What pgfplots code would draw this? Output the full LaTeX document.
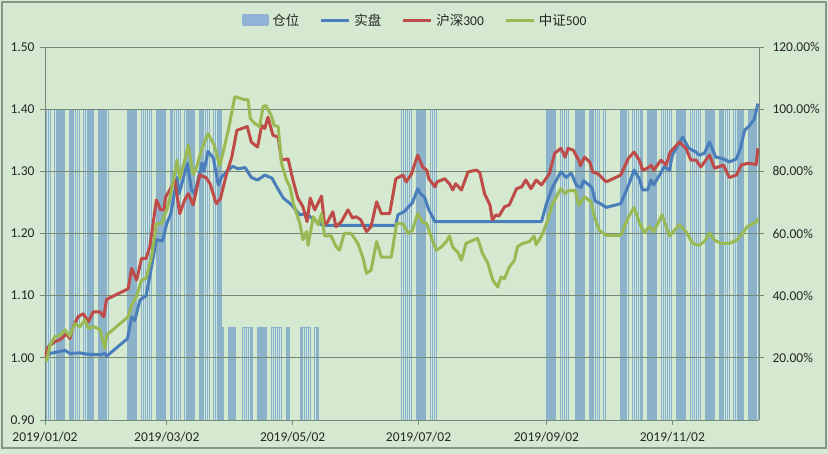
\documentclass[border=0pt]{standalone}
\usepackage{fontspec}
\setmainfont{Carlito}
\newfontfamily\cjk{Noto Sans CJK SC}
\usepackage{pgfplots}
\pgfplotsset{compat=1.18}

\definecolor{bg}{RGB}{212,233,207}
\definecolor{framec}{RGB}{135,150,135}
\definecolor{gridc}{RGB}{118,136,118}
\definecolor{shipan}{RGB}{74,126,187}
\definecolor{hs}{RGB}{190,75,72}
\definecolor{zz}{RGB}{152,185,84}
\definecolor{barfill}{RGB}{198,228,232}
\definecolor{baredge}{RGB}{140,178,202}
\definecolor{patch}{RGB}{145,178,214}

\pgfplotsset{
  base/.style={
    at={(45pt,34pt)}, anchor=south west, scale only axis,
    width=714pt, height=373pt, xmin=0, xmax=346,
    axis line style={gridc, line width=0.9pt},
    tick style={gridc, line width=0.9pt},
    major tick length=5pt, tick align=outside,
    ticklabel style={font=\fontsize{13.5}{15}\selectfont, text=black!85},
  }
}

\begin{document}
\begin{tikzpicture}
\fill[bg] (0pt,0pt) rectangle (828pt,454pt);
\draw[framec, line width=1.2pt] (2pt,6pt) rectangle (826pt,452pt);

% position (right axis, percent)
\begin{axis}[base, ymin=0, ymax=120, axis x line=none, axis y line*=right,
  ytick={20,40,60,80,100,120},
  yticklabels={20.00\%,40.00\%,60.00\%,80.00\%,100.00\%,120.00\%},
  yticklabel style={xshift=5pt}]
\addplot[ybar, bar width=0.7, fill=barfill, draw=baredge, line width=0.22pt, fill opacity=0.7]
coordinates {
(0,100)(1,100)(2,100)(5,100)(6,100)(7,100)(8,100)(9,100)(12,100)(13,100)(14,100)(15,100)(16,100)
(19,100)(20,100)(21,100)(22,100)(23,100)(26,100)(27,100)(28,100)(29,100)(30,100)
(40,100)(41,100)(42,100)(43,100)(44,100)(47,100)(48,100)(49,100)(50,100)(51,100)
(54,100)(55,100)(56,100)(57,100)(58,100)(61,100)(62,100)(63,100)(64,100)(65,100)
(68,100)(69,100)(70,100)(71,100)(72,100)(75,100)(76,100)(77,100)(78,100)(79,100)
(82,100)(83,100)(84,100)(85,100)
(86,30)(89,30)(90,30)(91,30)(92,30)(96,30)(97,30)(98,30)(99,30)(100,30)
(103,30)(104,30)(105,30)(106,30)(107,30)(110,30)(111,30)(112,30)(113,30)(114,30)
(117,30)(118,30)(124,30)(125,30)(126,30)(127,30)(128,30)(131,30)(132,30)
(173,100)(174,100)(175,100)(176,100)(177,100)(180,100)(181,100)(182,100)(183,100)(184,100)
(187,100)(188,100)(189,100)
(243,100)(244,100)(245,100)(246,100)(247,100)(250,100)(251,100)(252,100)(253,100)
(257,100)(258,100)(259,100)(260,100)(261,100)(264,100)(265,100)(266,100)(267,100)(268,100)
(271,100)(279,100)(280,100)(281,100)(282,100)(285,100)(286,100)(287,100)(288,100)(289,100)
(292,100)(293,100)(294,100)(295,100)(296,100)(299,100)(300,100)(301,100)(302,100)(303,100)
(306,100)(307,100)(308,100)(309,100)(310,100)(313,100)(314,100)(315,100)(316,100)(317,100)
(320,100)(321,100)(322,100)(323,100)(324,100)(327,100)(328,100)(329,100)(330,100)(331,100)
(334,100)(335,100)(336,100)(337,100)(338,100)(341,100)(342,100)(343,100)(344,100)(345,100)
};
\end{axis}

% net values (left axis)
\begin{axis}[base, ymin=0.9, ymax=1.5, axis y line*=left, axis x line*=bottom,
  ytick={0.9,1,1.1,1.2,1.3,1.4,1.5},
  yticklabels={0.90,1.00,1.10,1.20,1.30,1.40,1.50},
  yticklabel style={xshift=-2pt},
  xticklabel style={yshift=-4pt},
  ymajorgrids, grid style={gridc, line width=0.9pt},
  xtick={0,59,120,181,243,304},
  xticklabels={2019/01/02,2019/03/02,2019/05/02,2019/07/02,2019/09/02,2019/11/02},
  legend columns=-1,
  legend style={at={(0.518,1.072)}, anchor=center, draw=none, fill=none,
    font=\fontsize{13.5}{15}\selectfont, text=black!85,
    nodes={inner sep=1.5pt},
    /tikz/every odd column/.append style={column sep=2pt},
    /tikz/every even column/.append style={column sep=19pt}},
  legend image code/.code={\draw[#1] (0pt,0pt) -- (28pt,0pt);},
  every axis plot/.append style={line width=3pt, line join=round}]
\addlegendimage{legend image code/.code={\fill[patch] (0pt,-4.5pt) rectangle (24pt,4.5pt);}}
\addlegendentry{\cjk 仓位}

\addplot[shipan] coordinates {
(0,1.000)(2.4,1.007)(9.7,1.012)(12,1.007)(17,1.008)(20,1.006)(26.6,1.005)(29,1.007)(30,1.003)
(40,1.031)(42,1.066)(43.5,1.060)(46,1.093)(49,1.100)(51.6,1.146)(54,1.190)(57,1.188)(59,1.216)
(61,1.232)(64,1.290)(65,1.264)(69,1.313)(71,1.270)(72.6,1.264)(76,1.313)(77,1.300)(79,1.332)
(81.5,1.322)(84,1.278)(85.5,1.290)(88,1.300)(91,1.308)(93.5,1.304)(97,1.306)(100,1.290)
(103,1.286)(106.5,1.294)(110,1.289)(113,1.271)(115.5,1.257)(119.5,1.246)(123.5,1.230)
(126.6,1.232)(130.7,1.221)(134.6,1.213)(170,1.213)(171,1.230)(174,1.235)(177,1.246)(178,1.249)
(180.6,1.272)(182,1.264)(184,1.258)(186,1.238)(189,1.219)(240.6,1.219)(243,1.248)(246,1.275)
(250,1.299)(252.6,1.290)(255,1.297)(257.6,1.277)(259.8,1.274)(261,1.285)(265,1.274)(266.7,1.252)
(268.6,1.249)(272,1.242)(279,1.248)(282.7,1.277)(285.5,1.302)(288,1.288)(289.6,1.270)(292,1.270)
(293.7,1.286)(295,1.278)(300,1.307)(302.6,1.302)(304,1.326)(309,1.355)(312,1.337)(315.5,1.331)
(317,1.326)(319.5,1.329)(322,1.347)(325,1.323)(328.8,1.320)(331.6,1.315)(335,1.320)(337,1.337)
(339,1.366)(341,1.372)(343.6,1.383)(345.5,1.409)
};
\addlegendentry{\cjk 实盘}

\addplot[hs] coordinates {
(0,1.000)(1.6,1.018)(4.8,1.026)(6.5,1.028)(8,1.031)(10.5,1.039)(12,1.031)(13.7,1.050)(16,1.066)
(18.5,1.071)(21,1.058)(23.4,1.074)(26.6,1.074)(28.5,1.066)(29.8,1.094)(40.3,1.111)(42,1.144)
(44.4,1.125)(46.8,1.160)(49,1.160)(50.8,1.179)(54,1.254)(56,1.238)(57.6,1.238)(58.5,1.259)
(60.5,1.270)(62.9,1.286)(65.3,1.232)(67.7,1.254)(69.4,1.264)(71.8,1.246)(73.4,1.270)(75,1.294)
(78,1.290)(80,1.280)(83,1.248)(85,1.256)(88,1.296)(90.5,1.323)(93,1.366)(98,1.372)(100,1.347)
(103,1.339)(105,1.374)(106.5,1.369)(108,1.387)(110.5,1.358)(113,1.355)(114.6,1.318)(117.8,1.320)
(120,1.288)(122.5,1.257)(125,1.243)(127,1.219)(128.5,1.257)(130.7,1.238)(134,1.260)(135.5,1.214)
(137,1.219)(139.5,1.235)(141,1.211)(143.6,1.219)(146.8,1.238)(149,1.225)(150.7,1.227)(153,1.222)
(155.8,1.203)(158,1.211)(160.7,1.251)(163,1.232)(167,1.232)(170,1.288)(173.5,1.294)(175,1.283)
(177.6,1.296)(180.6,1.326)(183,1.307)(185,1.302)(186,1.288)(189,1.275)(190,1.283)(193.7,1.288)
(196,1.280)(197.6,1.270)(199,1.280)(201.8,1.270)(205,1.299)(209,1.302)(210.7,1.298)(213,1.264)
(215.6,1.246)(216.8,1.222)(218.6,1.230)(220,1.228)(222.7,1.243)(225,1.246)(228.5,1.272)
(231,1.275)(233,1.286)(235.5,1.272)(238,1.286)(240.6,1.278)(244.4,1.296)(247,1.329)(250,1.337)
(252,1.323)(253.5,1.337)(256,1.334)(258.6,1.318)(259.5,1.309)(261.4,1.323)(264,1.315)
(265.4,1.299)(268,1.296)(272,1.283)(279,1.294)(282.7,1.321)(285.5,1.331)(288,1.318)(289.6,1.302)
(292,1.305)(293.7,1.310)(295,1.302)(298.5,1.318)(301,1.310)(303,1.331)(307.4,1.347)(310.6,1.337)
(313,1.318)(315.5,1.318)(317.8,1.307)(322,1.326)(324.5,1.305)(328.8,1.310)(331.6,1.290)
(335,1.294)(337.4,1.310)(340.6,1.313)(344.6,1.311)(345.5,1.337)
};
\addlegendentry{{\cjk 沪深}300}

\addplot[zz] coordinates {
(0,1.000)(0.8,0.996)(2.4,1.020)(4.8,1.034)(7.3,1.036)(9.7,1.045)(12,1.035)(14.5,1.055)(17,1.050)
(19.4,1.061)(21,1.047)(23.4,1.050)(26.6,1.046)(29,1.015)(30,1.037)(40.3,1.066)(42,1.085)
(44.4,1.099)(46.8,1.125)(49,1.128)(51.6,1.162)(54,1.216)(56.5,1.216)(59,1.238)(61,1.264)
(64,1.318)(65.3,1.288)(67.7,1.318)(69.4,1.342)(71.8,1.295)(73.4,1.306)(75.8,1.334)(79,1.361)
(82,1.342)(84.7,1.309)(86,1.326)(88.8,1.366)(92,1.420)(96,1.416)(98.4,1.415)(99.5,1.385)
(101.6,1.377)(104,1.372)(105.7,1.404)(107,1.406)(109.6,1.390)(111,1.374)(113,1.372)(114.6,1.313)
(117,1.286)(118.6,1.276)(120.3,1.249)(123.5,1.216)(125,1.190)(126.7,1.203)(127.5,1.181)
(130,1.227)(132.4,1.214)(134,1.232)(135.5,1.196)(138.7,1.196)(141,1.179)(142.7,1.173)(145,1.200)
(148.4,1.200)(151.6,1.184)(154,1.162)(155.8,1.136)(158,1.141)(160.7,1.187)(163,1.162)
(167.8,1.162)(170.4,1.216)(173.4,1.216)(176,1.200)(178,1.205)(180.6,1.232)(183,1.218)(185,1.216)
(187,1.196)(189.6,1.173)(192,1.178)(194.5,1.187)(196,1.196)(197.6,1.178)(200,1.170)(201.8,1.157)
(204,1.184)(207.3,1.189)(209.7,1.192)(212,1.168)(214.6,1.152)(217,1.125)(219.4,1.114)(221,1.130)
(222.6,1.127)(225,1.146)(227.5,1.157)(229,1.179)(231.5,1.184)(234.7,1.187)(237,1.196)(238,1.182)
(240.6,1.196)(243,1.216)(246,1.248)(250,1.272)(252,1.264)(253.5,1.269)(257,1.269)(258.6,1.245)
(261.4,1.259)(264.6,1.251)(266,1.230)(268.6,1.205)(272,1.197)(279,1.197)(282.7,1.226)
(285.5,1.242)(288,1.218)(290.4,1.201)(292.8,1.211)(295,1.203)(299,1.230)(302.6,1.196)
(307.4,1.214)(310.6,1.203)(313.9,1.184)(317,1.181)(319.5,1.187)(322,1.201)(324.5,1.189)
(327.7,1.184)(331.6,1.184)(335,1.189)(337.4,1.197)(340,1.210)(343,1.216)(344.6,1.218)(345.5,1.224)
};
\addlegendentry{{\cjk 中证}500}
\end{axis}
\end{tikzpicture}
\end{document}
